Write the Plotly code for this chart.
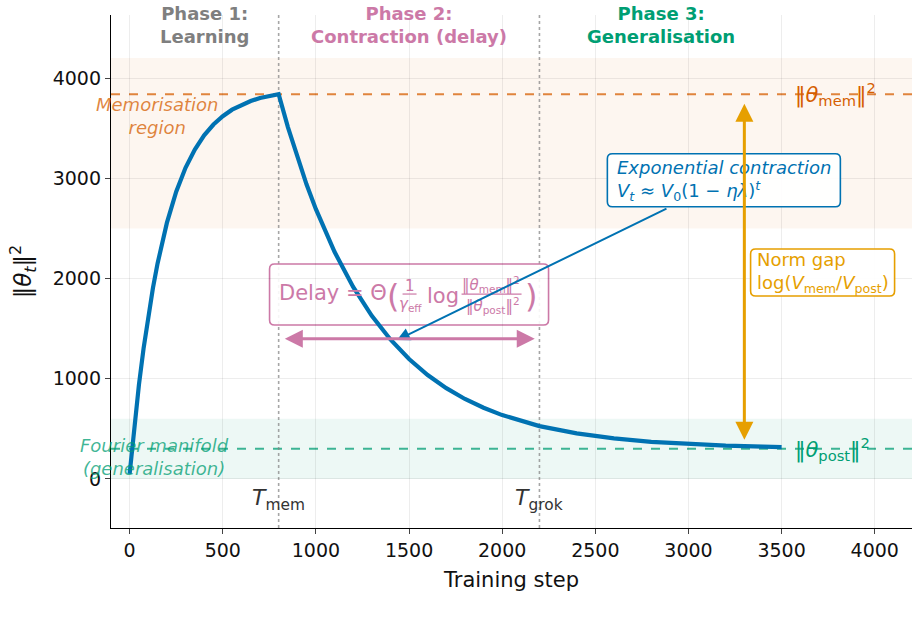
import plotly.graph_objects as go

# ---------------- data ----------------
steps = [0, 10, 25, 50, 75, 100, 125, 150, 175, 200, 250, 300, 350, 400, 450, 500,
         550, 600, 650, 700, 750, 800, 850, 900, 950, 1000, 1050, 1100, 1200, 1300,
         1400, 1500, 1600, 1700, 1800, 1900, 2000, 2200, 2400, 2600, 2800, 3000,
         3200, 3400, 3500]
norm_sq = [50, 247, 523, 939, 1304, 1623, 1904, 2150, 2366, 2555, 2866, 3105, 3287,
           3429, 3537, 3620, 3685, 3734, 3771, 3802, 3823, 3840, 3509, 3210, 2938,
           2692, 2469, 2266, 1916, 1628, 1392, 1197, 1037, 906, 798, 710, 637, 527,
           454, 404, 370, 347, 332, 322, 318]

theta_mem = 3840
theta_post = 300
t_mem = 800
t_grok = 2200
mem_band = [2500, 4200]
post_band = [0, 600]

x_ticks = [0, 500, 1000, 1500, 2000, 2500, 3000, 3500, 4000]
y_ticks = [0, 1000, 2000, 3000, 4000]
x_range = [-100, 4200]
y_range = [-490, 4630]

phase_x = [400, 1500, 2850]
phase_text = ["Phase 1:<br>Learning", "Phase 2:<br>Contraction (delay)", "Phase 3:<br>Generalisation"]

BLUE = "#0072B2"
ORANGE = "#E69F00"
VERM = "#D55E00"
GREEN = "#009E73"
PINK = "#CC79A7"
GRAY = "#7f7f7f"
FONT = "DejaVu Sans"

fig = go.Figure()

fig.add_trace(go.Scatter(x=steps, y=norm_sq, mode="lines",
                         line=dict(color=BLUE, width=4.2), showlegend=False,
                         hoverinfo="skip"))

shapes = []
# bands
shapes.append(dict(type="rect", xref="paper", x0=0, x1=1, yref="y",
                   y0=mem_band[0], y1=mem_band[1], fillcolor="rgba(213,94,0,0.06)",
                   line=dict(width=0), layer="below"))
shapes.append(dict(type="rect", xref="paper", x0=0, x1=1, yref="y",
                   y0=post_band[0], y1=post_band[1], fillcolor="rgba(0,158,115,0.07)",
                   line=dict(width=0), layer="below"))
# reference lines
shapes.append(dict(type="line", xref="paper", x0=0, x1=1, yref="y", y0=theta_mem, y1=theta_mem,
                   line=dict(color="rgba(213,94,0,0.75)", width=2, dash="dash"), layer="below"))
shapes.append(dict(type="line", xref="paper", x0=0, x1=1, yref="y", y0=theta_post, y1=theta_post,
                   line=dict(color="rgba(0,158,115,0.75)", width=2, dash="dash"), layer="below"))
for tx in [t_mem, t_grok]:
    shapes.append(dict(type="line", xref="x", x0=tx, x1=tx, yref="paper", y0=0, y1=1,
                       line=dict(color="rgba(128,128,128,0.7)", width=1.6, dash="dot"),
                       layer="below"))


def rrect(w, h, r):
    x0, x1, y0, y1 = -w / 2, w / 2, -h / 2, h / 2
    return (f"M{x0 + r},{y0} L{x1 - r},{y0} Q{x1},{y0} {x1},{y0 + r} "
            f"L{x1},{y1 - r} Q{x1},{y1} {x1 - r},{y1} L{x0 + r},{y1} "
            f"Q{x0},{y1} {x0},{y1 - r} L{x0},{y0 + r} Q{x0},{y0} {x0 + r},{y0} Z")


def box(xc, yc, w, h, color, layer, fill):
    return dict(type="path", xref="x", yref="y", xsizemode="pixel", ysizemode="pixel",
                xanchor=xc, yanchor=yc, path=rrect(w, h, 5),
                line=dict(color=color, width=1.6), fillcolor=fill, layer=layer)


# Delay box (behind curve)
DX, DY = 1500, 1840
shapes.append(box(DX, DY, 279, 61, PINK, "below", "rgba(255,255,255,0.9)"))
# fraction bars
for a, b in [(-6.5, 7.5), (52.5, 112.5)]:
    shapes.append(dict(type="line", xref="x", yref="y", xsizemode="pixel", ysizemode="pixel",
                       xanchor=DX, yanchor=DY, x0=a, x1=b, y0=0.5, y1=0.5,
                       line=dict(color=PINK, width=1.2)))
# Exponential / Norm gap boxes
EX, EY = 3190, 2980
NX, NY = 3720, 2060
shapes.append(box(EX, EY, 233, 53, BLUE, "above", "rgba(255,255,255,0.92)"))
shapes.append(box(NX, NY, 144, 47, ORANGE, "above", "rgba(255,255,255,0.92)"))

ann = []
for px_, txt, col in zip(phase_x, phase_text, [GRAY, PINK, GREEN]):
    t = "<br>".join(f"<b>{s}</b>" for s in txt.split("<br>"))
    ann.append(dict(x=px_, y=4530, xref="x", yref="y", text=t, showarrow=False,
                    font=dict(family=FONT, size=18, color=col), align="center",
                    xanchor="center", yanchor="middle"))

ann.append(dict(x=147, y=3622, text="<i>Memorisation<br>region</i>", showarrow=False,
                font=dict(family=FONT, size=18, color="rgba(213,94,0,0.75)"), align="center"))
ann.append(dict(x=136, y=219, text="<i>Fourier manifold<br>(generalisation)</i>", showarrow=False,
                font=dict(family=FONT, size=18, color="rgba(0,158,115,0.75)"), align="center"))

ann.append(dict(x=3560, y=theta_mem, text="‖<i>θ</i><sub>mem</sub>‖<sup>2</sup>", showarrow=False,
                xanchor="left", font=dict(family=FONT, size=21, color=VERM)))
ann.append(dict(x=3560, y=theta_post, text="‖<i>θ</i><sub>post</sub>‖<sup>2</sup>", showarrow=False,
                xanchor="left", font=dict(family=FONT, size=21, color=GREEN)))

ann.append(dict(x=t_mem, y=-210, text="<i>T</i><sub>mem</sub>", showarrow=False,
                font=dict(family=FONT, size=22, color="#333333")))
ann.append(dict(x=t_grok, y=-210, text="<i>T</i><sub>grok</sub>", showarrow=False,
                font=dict(family=FONT, size=22, color="#333333")))

# Delay formula pieces
pieces = [
    ("Delay = Θ", 21, -132.5, 1.5, "left"),
    ("(", 32, -16, -1.5, "center"),
    ("1", 15, 0.5, 9, "center"),
    ("<i>γ</i><sub>eff</sub>", 15, 1.5, -10, "center"),
    ("log", 21, 15.5, -1.5, "left"),
    ("‖<i>θ</i><sub>mem</sub>‖<sup>2</sup>", 15, 82, 10, "center"),
    ("‖<i>θ</i><sub>post</sub>‖<sup>2</sup>", 15, 84, -11, "center"),
    (")", 32, 122, -1.5, "center"),
]
for txt, fs, xs, ys, xa in pieces:
    ann.append(dict(x=DX, y=DY, text=txt, showarrow=False, xshift=xs, yshift=ys,
                    xanchor=xa, yanchor="middle",
                    font=dict(family=FONT, size=fs, color=PINK)))

ann.append(dict(x=EX, y=EY, showarrow=False, align="left",
                text="<i>Exponential contraction</i><br><i>V</i><sub><i>t</i></sub> ≈ "
                     "<i>V</i><sub>0</sub>(1 − <i>ηλ</i>)<sup><i>t</i></sup>",
                font=dict(family=FONT, size=18, color=BLUE)))
ann.append(dict(x=NX, y=NY, showarrow=False, align="left",
                text="Norm gap<br>log(<i>V</i><sub>mem</sub>/<i>V</i><sub>post</sub>)",
                font=dict(family=FONT, size=18, color=ORANGE)))

# arrows
ann.append(dict(x=1435, y=1386, ax=2890, ay=2704, xref="x", yref="y", axref="x", ayref="y",
                text="", showarrow=True, arrowhead=2, arrowsize=1.3, arrowwidth=2,
                arrowcolor=BLUE, standoff=0))
ann.append(dict(x=3300, y=390, ax=3300, ay=3760, xref="x", yref="y", axref="x", ayref="y",
                text="", showarrow=True, arrowhead=2, startarrowhead=2, arrowside="end+start",
                arrowsize=1.2, startarrowsize=1.2, arrowwidth=3, arrowcolor=ORANGE,
                standoff=0, startstandoff=0))
ann.append(dict(x=2175, y=1400, ax=825, ay=1400, xref="x", yref="y", axref="x", ayref="y",
                text="", showarrow=True, arrowhead=2, startarrowhead=2, arrowside="end+start",
                arrowsize=1.2, startarrowsize=1.2, arrowwidth=3, arrowcolor=PINK,
                standoff=0, startstandoff=0))

fig.update_layout(
    width=924, height=631,
    margin=dict(l=111, r=12, t=15, b=103),
    paper_bgcolor="white", plot_bgcolor="white",
    shapes=shapes, annotations=ann, showlegend=False,
    font=dict(family=FONT, color="#222222"),
    xaxis=dict(range=x_range, tickvals=x_ticks, ticks="outside", ticklen=5, tickwidth=1.2,
               showline=True, linecolor="black", linewidth=1.3, mirror=False,
               showgrid=True, gridcolor="rgba(0,0,0,0.07)", gridwidth=1, zeroline=False,
               tickfont=dict(size=19, family=FONT, color="#111111"),
               title=dict(text="Training step", font=dict(size=21, family=FONT, color="#111111"),
                          standoff=12)),
    yaxis=dict(range=y_range, tickvals=y_ticks, ticks="outside", ticklen=5, tickwidth=1.2,
               showline=True, linecolor="black", linewidth=1.3, mirror=False,
               showgrid=True, gridcolor="rgba(0,0,0,0.07)", gridwidth=1, zeroline=False,
               tickfont=dict(size=19, family=FONT, color="#111111"),
               title=dict(text="‖<i>θ</i><sub><i>t</i></sub>‖<sup>2</sup>",
                          font=dict(size=23, family=FONT, color="#111111"), standoff=14)),
)

fig.write_html("out.html")
